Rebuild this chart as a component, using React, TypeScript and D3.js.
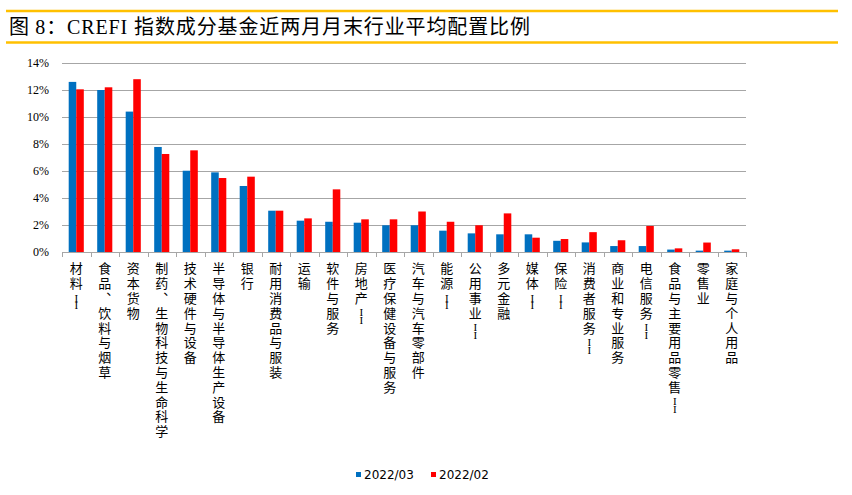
import * as d3 from 'd3'
import { useEffect, useRef } from 'react'

const categories = [
  '材料II', '食品、饮料与烟草', '资本货物', '制药、生物科技与生命科学', '技术硬件与设备',
  '半导体与半导体生产设备', '银行', '耐用消费品与服装', '运输', '软件与服务', '房地产II',
  '医疗保健设备与服务', '汽车与汽车零部件', '能源II', '公用事业II', '多元金融', '媒体II',
  '保险II', '消费者服务II', '商业和专业服务', '电信服务II', '食品与主要用品零售II', '零售业',
  '家庭与个人用品',
]
const seriesNames = ['2022/03', '2022/02']
const mar2022 = [12.6, 12.0, 10.4, 7.78, 6.02, 5.9, 4.89, 3.06, 2.32, 2.24, 2.17, 1.98, 1.98, 1.58, 1.38, 1.31, 1.31, 0.83, 0.71, 0.44, 0.44, 0.18, 0.1, 0.1]
const feb2022 = [12.05, 12.2, 12.8, 7.26, 7.53, 5.48, 5.58, 3.06, 2.49, 4.64, 2.42, 2.42, 3.0, 2.24, 1.98, 2.86, 1.06, 0.96, 1.47, 0.87, 1.93, 0.27, 0.7, 0.2]
const yTicks = [0, 2, 4, 6, 8, 10, 12, 14]
const colors = ['#0070C0', '#FF0000']

export default function App() {
  const svgRef = useRef<SVGSVGElement | null>(null)

  useEffect(() => {
    if (!svgRef.current) return
    const svg = d3.select(svgRef.current)
    svg.selectAll('*').remove()

    const width = 852
    const height = 495
    const plot = { left: 62, right: 746, top: 63, bottom: 252 }

    svg.append('rect').attr('width', width).attr('height', height).attr('fill', '#fff')

    // title with gold rules
    svg.append('line').attr('x1', 6).attr('x2', 838).attr('y1', 11).attr('y2', 11)
      .attr('stroke', '#FFC000').attr('stroke-width', 2.5)
    svg.append('line').attr('x1', 6).attr('x2', 838).attr('y1', 42.5).attr('y2', 42.5)
      .attr('stroke', '#FFC000').attr('stroke-width', 2.5)
    const title = svg.append('text')
      .attr('x', 9).attr('y', 34)
      .attr('font-size', 20)
      .attr('fill', '#000')
      .attr('textLength', 521)
      .attr('lengthAdjust', 'spacing')
    const titleParts = [
      { t: '图 ', f: '"Noto Sans CJK SC"' },
      { t: '8', f: '"Liberation Serif"' },
      { t: '：', f: '"Noto Sans CJK SC"' },
      { t: 'CREFI ', f: '"Liberation Serif"' },
      { t: '指数成分基金近两月月末行业平均配置比例', f: '"Noto Sans CJK SC"' },
    ]
    titleParts.forEach((p) => title.append('tspan').attr('font-family', p.f).text(p.t))

    const x = d3.scaleBand().domain(categories).range([plot.left, plot.right]).padding(0)
    const inner = x.bandwidth() * 0.235
    const xs = d3.scaleBand().domain(seriesNames).range([inner, x.bandwidth() - inner]).padding(0)
    const y = d3.scaleLinear().domain([0, 14]).range([plot.bottom, plot.top])

    // gridlines
    svg.append('g').selectAll('line')
      .data(yTicks.filter((t) => t > 0))
      .join('line')
      .attr('x1', plot.left).attr('x2', plot.right)
      .attr('y1', (d) => y(d) + 0.5).attr('y2', (d) => y(d) + 0.5)
      .attr('stroke', '#A6A6A6').attr('stroke-width', 1)

    // y labels
    svg.append('g').selectAll('text')
      .data(yTicks)
      .join('text')
      .attr('x', 49).attr('y', (d) => y(d) + 4)
      .attr('text-anchor', 'end')
      .attr('font-family', '"Liberation Serif", serif')
      .attr('font-size', 12)
      .attr('fill', '#000')
      .text((d) => `${d}%`)

    // bars
    const values = [mar2022, feb2022]
    values.forEach((vals, si) => {
      svg.append('g').selectAll('rect')
        .data(vals)
        .join('rect')
        .attr('x', (d, i) => (x(categories[i]) || 0) + (xs(seriesNames[si]) || 0))
        .attr('y', (d) => y(d))
        .attr('width', xs.bandwidth())
        .attr('height', (d) => plot.bottom - y(d))
        .attr('fill', colors[si])
    })

    // x axis line + ticks
    svg.append('line').attr('x1', plot.left).attr('x2', plot.right)
      .attr('y1', plot.bottom + 0.5).attr('y2', plot.bottom + 0.5)
      .attr('stroke', '#A6A6A6')
    const tickXs = categories.map((c) => x(c) || 0).concat([plot.right])
    svg.append('g').selectAll('line')
      .data(tickXs)
      .join('line')
      .attr('x1', (d) => Math.round(d) + 0.5).attr('x2', (d) => Math.round(d) + 0.5)
      .attr('y1', plot.bottom).attr('y2', plot.bottom + 5)
      .attr('stroke', '#A6A6A6')

    // vertical category labels, every glyph placed in its own cell
    const labels = svg.append('g')
    categories.forEach((c) => {
      const cx = (x(c) || 0) + x.bandwidth() / 2
      const t = labels.append('text')
        .attr('font-size', 13)
        .attr('fill', '#000')
        .attr('font-family', '"Noto Sans CJK SC"')
        .style('writing-mode', 'vertical-rl')
        .style('text-orientation', 'upright')
      let cy = 262
      for (const ch of Array.from(c)) {
        const s = t.append('tspan').attr('x', cx).attr('y', cy).text(ch)
        if (ch === 'I') {
          s.attr('font-family', '"Liberation Serif", serif').attr('font-size', 11)
          cy += 7.6
        } else {
          cy += 14.8
        }
      }
    })

    // legend
    const legend = [
      { name: seriesNames[0], color: colors[0], x: 356 },
      { name: seriesNames[1], color: colors[1], x: 431 },
    ]
    legend.forEach((l) => {
      svg.append('rect').attr('x', l.x).attr('y', 472).attr('width', 5).attr('height', 5).attr('fill', l.color)
      svg.append('text')
        .attr('x', l.x + 8).attr('y', 479)
        .attr('font-family', '"DejaVu Sans", sans-serif')
        .attr('font-size', 12)
        .attr('fill', '#000')
        .text(l.name)
    })
  }, [])

  return (
    <svg
      ref={svgRef}
      width={852}
      height={495}
      style={{ position: 'absolute', left: 0, top: 0, display: 'block' }}
    />
  )
}
